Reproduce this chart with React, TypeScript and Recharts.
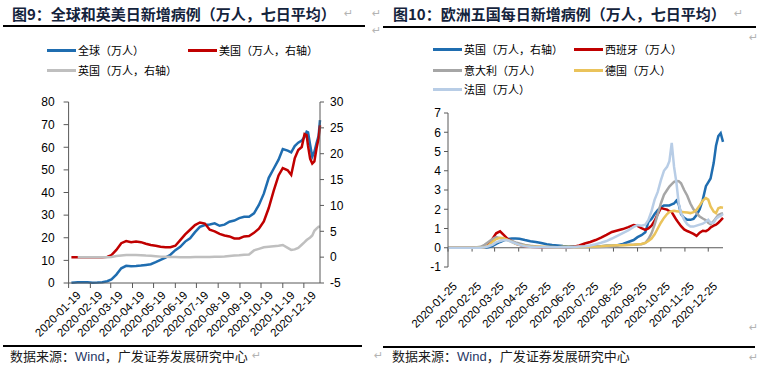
import React from "react";
import { LineChart, Line, XAxis, YAxis, ReferenceLine } from "recharts";

// 图9：全球和英美日新增病例（万人，七日平均）
const leftDates = [
  "2020-01-23", "2020-01-28", "2020-02-01", "2020-02-08", "2020-02-15", "2020-02-22",
  "2020-02-29", "2020-03-07", "2020-03-14", "2020-03-20", "2020-03-27", "2020-04-03",
  "2020-04-10", "2020-04-17", "2020-04-24", "2020-05-01", "2020-05-08", "2020-05-15",
  "2020-05-22", "2020-05-29", "2020-06-05", "2020-06-12", "2020-06-19", "2020-06-26",
  "2020-07-03", "2020-07-10", "2020-07-17", "2020-07-24", "2020-07-31", "2020-08-07",
  "2020-08-14", "2020-08-21", "2020-08-28", "2020-09-04", "2020-09-11", "2020-09-18",
  "2020-09-25", "2020-10-02", "2020-10-09", "2020-10-16", "2020-10-23", "2020-10-30",
  "2020-11-06", "2020-11-13", "2020-11-19", "2020-11-26", "2020-12-01", "2020-12-06",
  "2020-12-11", "2020-12-16", "2020-12-20", "2020-12-23", "2020-12-25", "2020-12-28",
  "2020-12-31", "2021-01-03", "2021-01-06", "2021-01-09", "2021-01-11",
];
const globalCases = [
  0.1, 0.25, 0.3, 0.35, 0.3, 0.15,
  0.2, 0.35, 0.8, 1.6, 3.7, 6.5,
  7.6, 7.4, 7.5, 7.7, 8.0, 8.3,
  9.2, 10.2, 11.2, 12.5, 14.5, 16.0,
  18.3, 19.8, 22.5, 24.8, 25.6, 25.9,
  26.4, 25.3, 25.8, 27.1, 27.6, 28.7,
  29.3, 29.3, 30.8, 34.5, 39.5, 46.5,
  50.5, 54.5, 59.2, 58.5, 57.7, 60.5,
  62.0, 63.0, 64.5, 66.9, 66.6, 61.0,
  55.8, 58.0, 61.7, 65.0, 72.0,
];
const usCases = [
  0, 0, 0, 0, 0, 0,
  0, 0, 0.05, 0.4, 1.4, 2.7,
  3.1, 2.9, 3.0, 2.9, 2.6, 2.35,
  2.2, 2.0, 1.9, 1.9, 2.2, 3.3,
  4.4, 5.3, 6.2, 6.7, 6.5, 5.3,
  5.0, 4.5, 4.2, 4.0, 3.6, 3.6,
  4.0, 4.1, 4.7, 5.5, 6.9, 9.5,
  12.8, 15.8, 17.2, 16.8, 15.9, 19.1,
  20.7, 21.3, 23.8, 23.6, 21.5, 19.0,
  18.1, 18.5, 21.0, 23.0, 25.5,
];
const ukCasesRight = [
  null, null, 0, 0, 0, 0,
  0, 0, 0, 0.05, 0.2, 0.3,
  0.4, 0.4, 0.42, 0.38, 0.3, 0.25,
  0.18, 0.1, 0.06, 0.04, 0.02, 0,
  0, 0, 0.02, 0.05, 0.05, 0.05,
  0.08, 0.1, 0.12, 0.2, 0.3, 0.35,
  0.45, 0.5, 1.3, 1.6, 1.9, 2.0,
  2.1, 2.2, 2.35, 1.8, 1.4, 1.5,
  1.8, 2.4, 2.9, 3.3, 3.5, 3.8,
  4.2, 5.1, 5.5, 5.9, 5.9,
];
const leftTickLabels = [
  "2020-01-19", "2020-02-19", "2020-03-19", "2020-04-19", "2020-05-19", "2020-06-19",
  "2020-07-19", "2020-08-19", "2020-09-19", "2020-10-19", "2020-11-19", "2020-12-19",
];
const leftTicksY = [0, 10, 20, 30, 40, 50, 60, 70, 80];
const rightTicksY = [-5, 0, 5, 10, 15, 20, 25, 30];

// 图10：欧洲五国每日新增病例（万人，七日平均）
const euDates = [
  "2020-01-25", "2020-02-01", "2020-02-08", "2020-02-15", "2020-02-22", "2020-02-29",
  "2020-03-07", "2020-03-12", "2020-03-17", "2020-03-22", "2020-03-27",
  "2020-04-01", "2020-04-06", "2020-04-11", "2020-04-16", "2020-04-21", "2020-04-26",
  "2020-05-03", "2020-05-10", "2020-05-17", "2020-05-24", "2020-05-31",
  "2020-06-07", "2020-06-14", "2020-06-21", "2020-06-28",
  "2020-07-05", "2020-07-12", "2020-07-19", "2020-07-26",
  "2020-08-02", "2020-08-09", "2020-08-16", "2020-08-23", "2020-08-30",
  "2020-09-06", "2020-09-13", "2020-09-20", "2020-09-25", "2020-09-30",
  "2020-10-05", "2020-10-09", "2020-10-13", "2020-10-17", "2020-10-21", "2020-10-25", "2020-10-29",
  "2020-11-02", "2020-11-05", "2020-11-08", "2020-11-11", "2020-11-14", "2020-11-17",
  "2020-11-20", "2020-11-24", "2020-11-28",
  "2020-12-02", "2020-12-06", "2020-12-10", "2020-12-14", "2020-12-18", "2020-12-22",
  "2020-12-25", "2020-12-28",
  "2021-01-01", "2021-01-04", "2021-01-07", "2021-01-10", "2021-01-13",
];
const ukCases = [
  0, 0, 0, 0, 0, 0,
  0, 0, 0.02, 0.08, 0.2,
  0.3, 0.38, 0.45, 0.48, 0.48, 0.47,
  0.4, 0.34, 0.3, 0.25, 0.18,
  0.14, 0.12, 0.09, 0.07,
  0.06, 0.06, 0.06, 0.07,
  0.07, 0.08, 0.1, 0.11, 0.13,
  0.2, 0.3, 0.4, 0.55, 0.65,
  0.8, 1.35, 1.5, 1.75, 1.95, 2.1, 2.2,
  2.2, 2.2, 2.25, 2.3, 2.45, 2.25,
  1.75, 1.55, 1.45,
  1.45, 1.5, 1.7, 2.0, 2.5, 3.2,
  3.4, 3.6,
  4.4, 5.3, 5.8, 5.95, 5.5,
];
const spainCases = [
  0, 0, 0, 0, 0, 0,
  0, 0.03, 0.15, 0.45, 0.75,
  0.85, 0.65, 0.45, 0.35, 0.22, 0.15,
  0.08, 0.05, 0.04, 0.03, 0.02,
  0.02, 0.02, 0.02, 0.02,
  0.05, 0.12, 0.22, 0.3,
  0.4, 0.53, 0.67, 0.82, 0.9,
  0.97, 1.07, 1.18, 1.14, 1.02,
  0.93, 1.0, 1.15, 1.4, 1.75, 2.06, 2.02,
  1.98, 1.9, 1.85, 1.65, 1.45, 1.28,
  1.12, 0.95, 0.87,
  0.8, 0.72, 0.62, 0.78, 0.88, 0.86,
  0.93, 1.05,
  1.15, 1.2, 1.3, 1.42, 1.55,
];
const italyCases = [
  0, 0, 0, 0, 0, 0.01,
  0.05, 0.15, 0.3, 0.45, 0.55,
  0.5, 0.45, 0.4, 0.35, 0.28, 0.22,
  0.15, 0.1, 0.07, 0.05, 0.04,
  0.03, 0.03, 0.03, 0.02,
  0.02, 0.02, 0.02, 0.03,
  0.03, 0.04, 0.05, 0.08, 0.12,
  0.14, 0.15, 0.16, 0.17, 0.18,
  0.25, 0.45, 0.75, 1.2, 1.75, 2.3, 2.75,
  3.0, 3.18, 3.3, 3.42, 3.47, 3.46,
  3.35, 3.0, 2.7,
  2.3, 2.0, 1.8, 1.62, 1.52, 1.43,
  1.3, 1.22,
  1.38, 1.55, 1.7, 1.76, 1.8,
];
const germanyCases = [
  0, 0, 0, 0, 0, 0,
  0, 0.02, 0.12, 0.3, 0.45,
  0.52, 0.5, 0.4, 0.3, 0.2, 0.15,
  0.1, 0.06, 0.05, 0.05, 0.04,
  0.04, 0.03, 0.05, 0.05,
  0.04, 0.04, 0.05, 0.06,
  0.07, 0.08, 0.1, 0.12, 0.13,
  0.13, 0.14, 0.16, 0.18, 0.2,
  0.25, 0.35, 0.48, 0.7, 1.0, 1.3, 1.55,
  1.75, 1.85, 1.9, 1.92, 1.9, 1.88,
  1.87, 1.85, 1.83,
  1.8, 1.85, 1.97, 2.2, 2.45, 2.58,
  2.5, 2.15,
  1.88, 1.8, 2.05, 2.1, 2.08,
];
const franceCases = [
  0, 0, 0, 0, 0, 0,
  0, 0.03, 0.08, 0.15, 0.28,
  0.35, 0.4, 0.38, 0.3, 0.22, 0.15,
  0.08, 0.05, 0.03, 0.03, 0.03,
  0.03, 0.03, 0.03, 0.03,
  0.04, 0.06, 0.08, 0.12,
  0.18, 0.26, 0.35, 0.48, 0.62,
  0.76, 0.9, 1.08, 1.18, 1.15,
  1.2, 1.45, 1.9, 2.5, 2.9, 3.5, 4.0,
  4.2, 4.5, 5.45, 4.2, 3.4, 2.3,
  1.8, 1.45, 1.22,
  1.1, 1.1, 1.15, 1.2, 1.25, 1.35,
  1.45, 1.3,
  1.3, 1.5, 1.6, 1.65, 1.75,
];
const euTickLabels = [
  "2020-01-25", "2020-02-25", "2020-03-25", "2020-04-25", "2020-05-25", "2020-06-25",
  "2020-07-25", "2020-08-25", "2020-09-25", "2020-10-25", "2020-11-25", "2020-12-25",
];
const euTicksY = [-1, 0, 1, 2, 3, 4, 5, 6, 7];

const toTime = (d: string) => Date.parse(`${d}T00:00:00Z`);
const fmtDate = (t: number) => new Date(t).toISOString().slice(0, 10);

const leftData = leftDates.map((d, i) => ({
  t: toTime(d),
  global: globalCases[i],
  us: usCases[i],
  uk: ukCasesRight[i],
}));
const euData = euDates.map((d, i) => ({
  t: toTime(d),
  uk: ukCases[i],
  spain: spainCases[i],
  italy: italyCases[i],
  germany: germanyCases[i],
  france: franceCases[i],
}));

const NUM_FONT = "'Liberation Sans', Arial, sans-serif";
const CJK_FONT = "'Noto Sans CJK SC', sans-serif";
const AXIS = "#595959";
const BLUE = "#1f6db0";
const RED = "#c00000";

function DateTick(props: any) {
  const { x, y, payload, ox, oy } = props;
  return (
    <g transform={`translate(${x + ox},${y + oy}) rotate(-45)`}>
      <text textAnchor="end" dy="0.72em" fontSize={11.5} fontFamily={NUM_FONT} fill="#000">
        {fmtDate(payload.value)}
      </text>
    </g>
  );
}

function LegendItem({ x, y, color, label }: { x: number; y: number; color: string; label: string }) {
  return (
    <div
      style={{
        position: "absolute",
        left: x,
        top: y - 8,
        height: 16,
        display: "flex",
        alignItems: "center",
        whiteSpace: "nowrap",
      }}
    >
      <div style={{ width: 29, height: 3, background: color }} />
      <span style={{ marginLeft: 2, fontSize: 11, fontFamily: CJK_FONT, color: "#000", lineHeight: "16px" }}>
        {label}
      </span>
    </div>
  );
}

function Mark({ x, y }: { x: number; y: number }) {
  return (
    <span
      style={{
        position: "absolute",
        left: x,
        top: y - 7,
        fontSize: 11,
        lineHeight: "14px",
        color: "#b4b4b4",
        fontFamily: "'DejaVu Sans', sans-serif",
      }}
    >
      ↵
    </span>
  );
}

function Title({ x, text }: { x: number; text: string }) {
  return (
    <div
      style={{
        position: "absolute",
        left: x,
        top: 5,
        fontSize: 15,
        lineHeight: "18px",
        fontWeight: 700,
        fontFamily: CJK_FONT,
        color: "#14233c",
        whiteSpace: "nowrap",
      }}
    >
      {text}
    </div>
  );
}

function Source({ x }: { x: number }) {
  return (
    <div
      style={{
        position: "absolute",
        left: x,
        top: 348,
        fontSize: 13,
        lineHeight: "16px",
        fontFamily: CJK_FONT,
        color: "#1a1a1a",
        whiteSpace: "nowrap",
      }}
    >
      数据来源：<span style={{ fontFamily: NUM_FONT, color: "#1f3864" }}>Wind</span>，广发证券发展研究中心
    </div>
  );
}

function Rule({ x, y, w }: { x: number; y: number; w: number }) {
  return <div style={{ position: "absolute", left: x, top: y, width: w, height: 1.5, background: "#000" }} />;
}

export default function App() {
  const tickStyle = { fontSize: 12, fontFamily: NUM_FONT, fill: "#000" };
  return (
    <div
      style={{
        position: "absolute",
        left: 0,
        top: 0,
        width: 763,
        height: 378,
        overflow: "hidden",
        background: "#fff",
      }}
    >
      {/* left panel */}
      <Title x={12} text="图9：全球和英美日新增病例（万人，七日平均）" />
      <Mark x={344} y={14} />
      <Mark x={372} y={14} />
      <Mark x={372} y={31} />
      <Rule x={3} y={25} w={362} />
      <LegendItem x={47} y={50} color={BLUE} label="全球（万人）" />
      <LegendItem x={188} y={50} color={RED} label="美国（万人，右轴）" />
      <LegendItem x={47} y={70} color="#bfbfbf" label="英国（万人，右轴）" />

      <div style={{ position: "absolute", left: 0, top: 0 }}>
        <LineChart width={380} height={345} data={leftData} margin={{ top: 102, right: 20, bottom: 0, left: 28.6 }}>
          <XAxis
            dataKey="t"
            type="number"
            domain={[toTime("2020-01-19"), toTime("2021-01-11")]}
            ticks={leftTickLabels.map(toTime)}
            interval={0}
            height={62}
            stroke={AXIS}
            tickSize={5}
            tickMargin={0}
            tick={<DateTick ox={7} oy={2} />}
          />
          <YAxis
            yAxisId="l"
            domain={[0, 80]}
            ticks={leftTicksY}
            interval={0}
            width={40}
            stroke={AXIS}
            tickSize={5}
            tickMargin={9}
            tick={tickStyle}
          />
          <YAxis
            yAxisId="r"
            orientation="right"
            domain={[-5, 30]}
            ticks={rightTicksY}
            interval={0}
            width={40}
            stroke={AXIS}
            tickSize={4}
            tickMargin={6}
            tick={{ ...tickStyle, textAnchor: "start" }}
          />
          <Line yAxisId="l" dataKey="global" stroke={BLUE} strokeWidth={2.5} dot={false} activeDot={false} isAnimationActive={false} />
          <Line yAxisId="r" dataKey="us" stroke={RED} strokeWidth={2.5} dot={false} activeDot={false} isAnimationActive={false} />
          <Line yAxisId="r" dataKey="uk" stroke="#bfbfbf" strokeWidth={2.5} dot={false} activeDot={false} isAnimationActive={false} />
        </LineChart>
      </div>

      <Rule x={3} y={345} w={359} />
      <Source x={10} />
      <Mark x={252} y={356} />
      <Mark x={374} y={356} />

      {/* right panel */}
      <Title x={393} text="图10：欧洲五国每日新增病例（万人，七日平均）" />
      <Mark x={734} y={14} />
      <Mark x={749} y={38} />
      <Rule x={383} y={26} w={373} />
      <LegendItem x={433} y={49} color={BLUE} label="英国（万人，右轴）" />
      <LegendItem x={574} y={49} color={RED} label="西班牙（万人）" />
      <LegendItem x={433} y={70} color="#a6a6a6" label="意大利（万人）" />
      <LegendItem x={574} y={70} color="#eac35b" label="德国（万人）" />
      <LegendItem x={433} y={89} color="#b8cde6" label="法国（万人）" />

      <div style={{ position: "absolute", left: 380, top: 0 }}>
        <LineChart width={383} height={345} data={euData} margin={{ top: 113, right: 40, bottom: 0, left: 28 }}>
          <XAxis
            dataKey="t"
            type="number"
            domain={[toTime("2020-01-25"), toTime("2021-01-13")]}
            ticks={euTickLabels.map(toTime)}
            interval={0}
            height={78}
            axisLine={false}
            tickLine={false}
            tickSize={0}
            tickMargin={0}
            tick={<DateTick ox={4} oy={14} />}
          />
          <YAxis
            domain={[-1, 7]}
            ticks={euTicksY}
            interval={0}
            width={40}
            stroke={AXIS}
            tickSize={4}
            tickMargin={3}
            tick={tickStyle}
          />
          <ReferenceLine y={0} stroke={AXIS} strokeWidth={1} />
          {euTickLabels.map((d) => (
            <ReferenceLine
              key={d}
              segment={[
                { x: toTime(d), y: 0 },
                { x: toTime(d), y: -0.2 },
              ]}
              stroke={AXIS}
              strokeWidth={1}
            />
          ))}
          <Line dataKey="uk" stroke={BLUE} strokeWidth={2.5} dot={false} activeDot={false} isAnimationActive={false} />
          <Line dataKey="spain" stroke={RED} strokeWidth={2.5} dot={false} activeDot={false} isAnimationActive={false} />
          <Line dataKey="italy" stroke="#a6a6a6" strokeWidth={2.5} dot={false} activeDot={false} isAnimationActive={false} />
          <Line dataKey="germany" stroke="#eac35b" strokeWidth={2.5} dot={false} activeDot={false} isAnimationActive={false} />
          <Line dataKey="france" stroke="#b8cde6" strokeWidth={2.5} dot={false} activeDot={false} isAnimationActive={false} />
        </LineChart>
      </div>

      <Rule x={383} y={346} w={372} />
      <Source x={392} />
      <Mark x={749} y={328} />
      <Mark x={749} y={358} />
    </div>
  );
}
